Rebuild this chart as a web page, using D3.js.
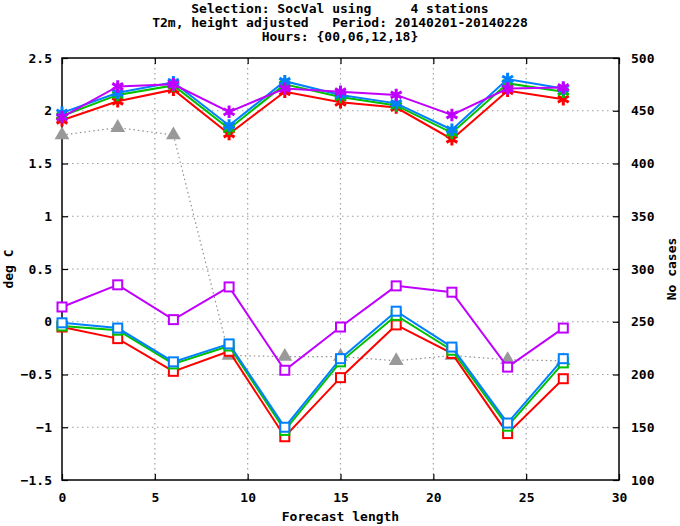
<!DOCTYPE html>
<html>
<head>
<meta charset="utf-8">
<script src="https://cdn.jsdelivr.net/npm/d3@7"></script>
<style>
  body { margin: 0; background: #fff; }
  text { font-family: "DejaVu Sans Mono", monospace; font-weight: bold; font-size: 13px; fill: #000; }
</style>
</head>
<body>
<svg id="chart" width="680" height="526"></svg>
<script>
// forecast lengths (hours)
const steps = [0, 3, 6, 9, 12, 15, 18, 21, 24, 27]

// rmse (upper curves, asterisks)
const rmseRed    = [1.91, 2.09, 2.20, 1.78, 2.18, 2.08, 2.03, 1.73, 2.19, 2.11]
const rmseGreen  = [1.95, 2.15, 2.24, 1.83, 2.25, 2.13, 2.05, 1.79, 2.26, 2.18]
const rmseBlue   = [1.98, 2.17, 2.27, 1.86, 2.28, 2.15, 2.07, 1.82, 2.30, 2.21]
const rmsePurple = [1.94, 2.23, 2.25, 1.99, 2.21, 2.18, 2.15, 1.96, 2.21, 2.22]

// bias (lower curves, squares)
const biasRed    = [-0.05, -0.16, -0.47, -0.28, -1.09, -0.53, -0.03, -0.30, -1.06, -0.54]
const biasGreen  = [-0.04, -0.08, -0.40, -0.23, -1.03, -0.38, 0.06, -0.27, -0.99, -0.39]
const biasBlue   = [-0.01, -0.06, -0.38, -0.21, -1.00, -0.35, 0.10, -0.24, -0.96, -0.35]
const biasPurple = [0.14, 0.35, 0.02, 0.33, -0.46, -0.05, 0.34, 0.28, -0.43, -0.06]

// number of cases (right axis)
const cases = [427, 434, 427, 218, 217, 217, 213, 218, 214, 213]

const xTicks = [0, 5, 10, 15, 20, 25, 30]
const yTicks = [-1.5, -1, -0.5, 0, 0.5, 1, 1.5, 2, 2.5]
const y2Ticks = [100, 150, 200, 250, 300, 350, 400, 450, 500]

const titleLines = [
  'Selection: SocVal using     4 stations',
  'T2m, height adjusted   Period: 20140201-20140228',
  'Hours: {00,06,12,18}'
]

const colors = ['#ff0000', '#00c000', '#0080ff', '#c000ff']
const rmse = [rmseRed, rmseGreen, rmseBlue, rmsePurple]
const bias = [biasRed, biasGreen, biasBlue, biasPurple]

const W = 680, H = 526
const margin = { top: 58, right: 61, bottom: 46, left: 62 }
const width = W - margin.left - margin.right
const height = H - margin.top - margin.bottom

const svg = d3.select('#chart')

const x = d3.scaleLinear().domain([0, 30]).range([0, width])
const y = d3.scaleLinear().domain([-1.5, 2.5]).range([height, 0])
const y2 = d3.scaleLinear().domain([100, 500]).range([height, 0])

// title
svg.append('g').selectAll('text')
  .data(titleLines)
  .enter().append('text')
  .attr('x', W / 2)
  .attr('y', (d, i) => 13 + i * 14)
  .attr('text-anchor', 'middle')
  .attr('xml:space', 'preserve')
  .style('white-space', 'pre')
  .text(d => d)

const g = svg.append('g').attr('transform', `translate(${margin.left},${margin.top})`)

// grid
g.append('g').selectAll('line')
  .data(xTicks.slice(1, -1))
  .enter().append('line')
  .attr('x1', d => x(d)).attr('x2', d => x(d))
  .attr('y1', 0).attr('y2', height)
  .attr('stroke', '#a0a0a0').attr('stroke-width', 1.2).attr('stroke-dasharray', '1.5,3.5')

g.append('g').selectAll('line')
  .data(yTicks.slice(1, -1))
  .enter().append('line')
  .attr('x1', 0).attr('x2', width)
  .attr('y1', d => y(d)).attr('y2', d => y(d))
  .attr('stroke', '#a0a0a0').attr('stroke-width', 1.2).attr('stroke-dasharray', '1.5,3.5')

// axes (ticks inward, gnuplot style)
const xAxis = g.append('g').attr('transform', `translate(0,${height})`)
  .call(d3.axisBottom(x).tickValues(xTicks).tickSize(-6).tickPadding(13).tickFormat(d3.format('d')))
const xTop = g.append('g')
  .call(d3.axisTop(x).tickValues(xTicks).tickSize(-6).tickFormat(''))
const yAxis = g.append('g')
  .call(d3.axisLeft(y).tickValues(yTicks).tickSize(-6).tickPadding(10).tickFormat(d => d3.format('')(d)))
const yAxis2 = g.append('g').attr('transform', `translate(${width},0)`)
  .call(d3.axisRight(y2).tickValues(y2Ticks).tickSize(-6).tickPadding(12).tickFormat(d3.format('d')))

g.selectAll('.domain').remove()
g.selectAll('.tick line').attr('stroke', '#000').attr('stroke-width', 1.2)
g.selectAll('.tick text').attr('fill', '#000')

g.append('rect')
  .attr('width', width).attr('height', height)
  .attr('fill', 'none').attr('stroke', '#000').attr('stroke-width', 1.5)

// axis labels
svg.append('text')
  .attr('x', margin.left + width / 2).attr('y', 521)
  .attr('text-anchor', 'middle').text('Forecast length')
svg.append('text')
  .attr('transform', `translate(13,${margin.top + height / 2}) rotate(-90)`)
  .attr('text-anchor', 'middle').text('deg C')
svg.append('text')
  .attr('transform', `translate(676,${margin.top + height / 2}) rotate(-90)`)
  .attr('text-anchor', 'middle').text('No cases')

// cases curve
const line2 = d3.line().x((d, i) => x(steps[i])).y(d => y2(d))
g.append('path')
  .attr('d', line2(cases))
  .attr('fill', 'none').attr('stroke', '#909090').attr('stroke-width', 1.2)
  .attr('stroke-dasharray', '1.5,3')
g.append('g').selectAll('path')
  .data(cases)
  .enter().append('path')
  .attr('transform', (d, i) => `translate(${x(steps[i])},${y2(d)})`)
  .attr('d', d3.symbol(d3.symbolTriangle, 95))
  .attr('fill', '#999999')

const line = d3.line().x((d, i) => x(steps[i])).y(d => y(d))

// bias curves with open squares
bias.forEach((vals, k) => {
  g.append('path')
    .attr('d', line(vals))
    .attr('fill', 'none').attr('stroke', colors[k]).attr('stroke-width', 2)
  g.append('g').selectAll('rect')
    .data(vals)
    .enter().append('rect')
    .attr('x', (d, i) => x(steps[i]) - 4.5)
    .attr('y', d => y(d) - 4.5)
    .attr('width', 9).attr('height', 9)
    .attr('fill', '#fff').attr('stroke', colors[k]).attr('stroke-width', 2)
})

// rmse curves with asterisks
rmse.forEach((vals, k) => {
  g.append('path')
    .attr('d', line(vals))
    .attr('fill', 'none').attr('stroke', colors[k]).attr('stroke-width', 2)
  g.append('g').selectAll('path')
    .data(vals)
    .enter().append('path')
    .attr('transform', (d, i) => `translate(${x(steps[i])},${y(d)})`)
    .attr('d', d3.symbol(d3.symbolAsterisk, 110))
    .attr('fill', 'none').attr('stroke', colors[k]).attr('stroke-width', 3)
})
</script>
</body>
</html>
